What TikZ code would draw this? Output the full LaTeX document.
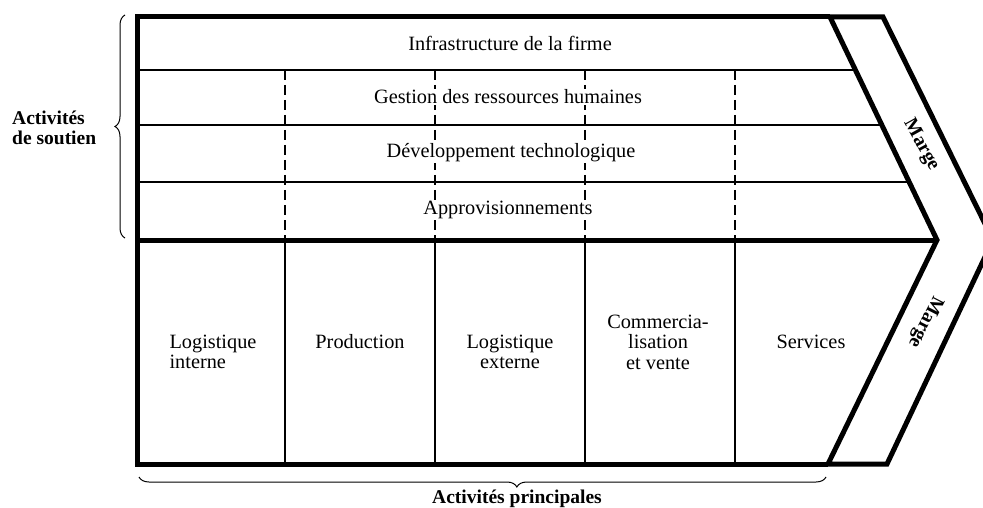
\documentclass[tikz,border=0pt]{standalone}
\usepackage{fontspec}
\setmainfont{Liberation Serif}
\usetikzlibrary{calc,decorations.pathreplacing}

\tikzset{
  frame/.style={line width=5pt, line join=miter, miter limit=20},
  thin line/.style={line width=1.8pt},
  dash line/.style={line width=1.8pt, dash pattern=on 10pt off 5pt},
  lbl/.style={font=\fontsize{20.3}{20.5}\selectfont, align=center, inner sep=1pt},
  side lbl/.style={font=\fontsize{19.5}{20}\selectfont\bfseries, inner sep=0pt},
  brace line/.style={line width=1pt, decorate}
}

\begin{document}
\begin{tikzpicture}[x=1pt, y=-1pt]
  \useasboundingbox (0,0) rectangle (983,508);
  % corners
  \coordinate (tl) at (137,17);
  \coordinate (ml) at (137,240);
  \coordinate (bl) at (137,464);
  \coordinate (it) at (830,17);
  \coordinate (ip) at (937,240);
  \coordinate (ib) at (828,464);
  \coordinate (ot) at (883,17);
  \coordinate (op) at (993,240);
  \coordinate (ob) at (887,464);
  % support rows
  \foreach \f [count=\i] in {0.2377,0.4843,0.7399}
    \path ($(it)!\f!(ip)$) coordinate (r\i);
  \foreach \i in {1,2,3}
    \draw[thin line] (tl |- r\i) -- (r\i);
  % columns
  \foreach \x [count=\i] in {285,435,585,735} {
    \coordinate (c\i) at (\x,70);
    \draw[dash line] (c\i) -- (c\i |- ml);
    \draw[thin line] (c\i |- ml) -- (c\i |- bl);
  }
  % frame and margin band
  \draw[frame] (it) -- (tl) -- (bl) -- (ib);
  \draw[frame] (ml) -- (ip);
  \draw[frame] (it) -- (ot) -- (op) -- (ob) -- (ib) -- (ip) -- cycle;
  % support activities
  \node[lbl] (infra) at (510,43) {Infrastructure de la firme};
  \node[lbl, fill=white] (grh) at (508,97) {Gestion des ressources humaines};
  \node[lbl, fill=white] (tech) at (511,153) {Développement technologique};
  \node[lbl, fill=white] (appro) at (508,210) {Approvisionnements};
  % primary activities
  \node[lbl, align=left] (login) at (213,352) {Logistique\\interne};
  \node[lbl] (prod) at (360,342) {Production};
  \node[lbl] (logext) at (510,352) {Logistique\\externe};
  \node[lbl] (comm) at (658,342) {Commercia-\\lisation\\et vente};
  \node[lbl] (serv) at (811,342) {Services};
  % margin
  \node[side lbl, rotate=-61] (marge1) at (921,145) {Marge};
  \node[side lbl, rotate=-117] (marge2) at (925,322) {Marge};
  % braces
  \coordinate (b1) at (125,238);
  \coordinate (b2) at (125,15);
  \draw[brace line, decoration={brace, amplitude=10pt}] (b1) -- (b2);
  \coordinate (b3) at (826,477);
  \coordinate (b4) at (139,477);
  \draw[brace line, decoration={brace, amplitude=10pt, aspect=0.45}] (b3) -- (b4);
  \node[side lbl, align=left, anchor=west] (soutien) at (12,128) {Activités\\de soutien};
  \node[side lbl] (princ) at (517,499) {Activités principales};
\end{tikzpicture}
\end{document}
